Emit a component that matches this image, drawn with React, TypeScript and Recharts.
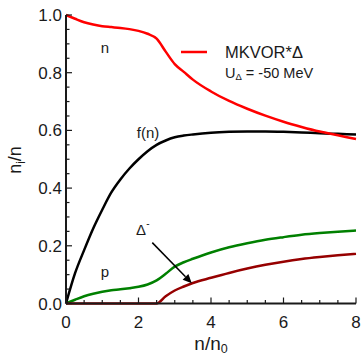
import { Customized, Line, LineChart, ReferenceLine, XAxis, YAxis } from "recharts";

const density = [0, 0.25, 0.5, 0.75, 1, 1.25, 1.5, 1.75, 2, 2.25, 2.5, 2.75, 3, 3.25, 3.5, 4, 4.5, 5, 5.5, 6, 6.5, 7, 7.5, 8];
const nTotal = [1.0, 0.987, 0.975, 0.967, 0.961, 0.958, 0.955, 0.951, 0.945, 0.935, 0.918, 0.873, 0.83, 0.803, 0.776, 0.735, 0.702, 0.675, 0.651, 0.63, 0.612, 0.596, 0.583, 0.57];
const fOfN = [0, 0.105, 0.185, 0.26, 0.325, 0.385, 0.43, 0.468, 0.5, 0.528, 0.55, 0.565, 0.576, 0.582, 0.586, 0.592, 0.595, 0.596, 0.596, 0.595, 0.593, 0.59, 0.588, 0.586];
const proton = [0, 0.013, 0.025, 0.034, 0.041, 0.046, 0.049, 0.053, 0.058, 0.066, 0.08, 0.103, 0.128, 0.143, 0.155, 0.177, 0.195, 0.209, 0.221, 0.23, 0.238, 0.244, 0.249, 0.253];
const deltaMinus = [0, 0, 0, 0, 0, 0, 0, 0, 0, 0, 0, 0.025, 0.045, 0.059, 0.071, 0.089, 0.106, 0.121, 0.134, 0.145, 0.154, 0.161, 0.167, 0.172];

const xTicks = [0, 0.5, 1, 1.5, 2, 2.5, 3, 3.5, 4, 4.5, 5, 5.5, 6, 6.5, 7, 7.5, 8];
const xLabels = [0, 2, 4, 6, 8];
const yTicks = [0, 0.05, 0.1, 0.15, 0.2, 0.25, 0.3, 0.35, 0.4, 0.45, 0.5, 0.55, 0.6, 0.65, 0.7, 0.75, 0.8, 0.85, 0.9, 0.95, 1];
const yLabels = [0, 0.2, 0.4, 0.6, 0.8, 1];

const data = density.map((x, i) => ({
  x,
  n: nTotal[i],
  f: fOfN[i],
  p: proton[i],
  d: deltaMinus[i],
}));

const font = "'Liberation Sans', Arial, sans-serif";
const ink = "#1a1a1a";

const isMajor = (v: number, majors: number[]) => majors.some((m) => Math.abs(m - v) < 1e-6);

function makeTick(side: "bottom" | "top" | "left" | "right") {
  return function Tick(props: any) {
    const { x, y, payload } = props;
    const v = payload.value as number;
    const major = isMajor(v, side === "bottom" || side === "top" ? xLabels : yLabels);
    const len = major ? 6 : 3.5;
    let line;
    if (side === "bottom") line = <line x1={x} y1={y} x2={x} y2={y - len} />;
    else if (side === "top") line = <line x1={x} y1={y} x2={x} y2={y + len} />;
    else if (side === "left") line = <line x1={x} y1={y} x2={x + len} y2={y} />;
    else line = <line x1={x} y1={y} x2={x - len} y2={y} />;
    return (
      <g stroke={ink} strokeWidth={1.2}>
        {line}
        {major && side === "bottom" && (
          <text x={x} y={y + 24.5} textAnchor="middle" fontSize={17} fontFamily={font} fill={ink} stroke="none">
            {v}
          </text>
        )}
        {major && side === "left" && (
          <text x={x - 4} y={y + 6} textAnchor="end" fontSize={17} fontFamily={font} fill={ink} stroke="none">
            {v.toFixed(1)}
          </text>
        )}
      </g>
    );
  };
}

const BottomTick = makeTick("bottom");
const TopTick = makeTick("top");
const LeftTick = makeTick("left");
const RightTick = makeTick("right");

function Arrow(props: any) {
  const { x1, y1, x2, y2 } = props;
  const ang = Math.atan2(y2 - y1, x2 - x1);
  const L = 9;
  const W = 4;
  const bx = x2 - L * Math.cos(ang);
  const by = y2 - L * Math.sin(ang);
  const px = -Math.sin(ang) * W;
  const py = Math.cos(ang) * W;
  return (
    <g>
      <line x1={x1} y1={y1} x2={bx} y2={by} stroke="#000" strokeWidth={1.5} />
      <path d={`M${x2},${y2} L${bx + px},${by + py} L${bx - px},${by - py} Z`} fill="#000" />
    </g>
  );
}

function Annotations() {
  return (
    <g fontFamily={font} fill={ink}>
      <text x={105} y={53} fontSize={15} textAnchor="middle">n</text>
      <text x={148} y={138} fontSize={15} textAnchor="middle">f(n)</text>
      <text x={105} y={277} fontSize={15} textAnchor="middle">p</text>
      <text x={141} y={235} fontSize={15} textAnchor="middle">Δ</text>
      <text x={148} y={227} fontSize={10} textAnchor="middle">-</text>
      <line x1={181} y1={52} x2={207} y2={52} stroke="#ff0000" strokeWidth={2.5} />
      <text x={225} y={58} fontSize={16.5}>MKVOR*Δ</text>
      <text x={225} y={78} fontSize={14.5}>
        U<tspan fontSize={9.5} dy={2}>Δ</tspan>
        <tspan dy={-2}> = -50 MeV</tspan>
      </text>
      <text transform="translate(21,160) rotate(-90)" fontSize={18} textAnchor="middle">
        n<tspan fontSize={12} dy={4}>i</tspan>
        <tspan dy={-4}>/n</tspan>
      </text>
      <text x={211} y={350} fontSize={19} textAnchor="middle">
        n/n<tspan fontSize={12.5} dy={3}>0</tspan>
      </text>
    </g>
  );
}

export default function App() {
  return (
    <div style={{ position: "absolute", left: 0, top: 0, width: 363, height: 357, background: "#fff" }}>
      <LineChart width={363} height={357} data={data} margin={{ top: 15, right: 7, bottom: 0, left: 0 }}>
        <XAxis
          dataKey="x"
          type="number"
          domain={[0, 8]}
          ticks={xTicks}
          interval={0}
          height={53.5}
          tickSize={0}
          tickMargin={0}
          tickLine={false}
          tick={BottomTick}
          axisLine={{ stroke: ink, strokeWidth: 2 }}
        />
        <XAxis
          xAxisId="top"
          orientation="top"
          dataKey="x"
          type="number"
          domain={[0, 8]}
          ticks={xTicks}
          interval={0}
          height={0}
          tickSize={0}
          tickMargin={0}
          tickLine={false}
          tick={TopTick}
          axisLine={{ stroke: ink, strokeWidth: 2 }}
        />
        <YAxis
          type="number"
          domain={[0, 1]}
          ticks={yTicks}
          interval={0}
          width={66}
          tickSize={0}
          tickMargin={0}
          tickLine={false}
          tick={LeftTick}
          axisLine={{ stroke: ink, strokeWidth: 2 }}
        />
        <YAxis
          yAxisId="right"
          orientation="right"
          type="number"
          domain={[0, 1]}
          ticks={yTicks}
          interval={0}
          width={0}
          tickSize={0}
          tickMargin={0}
          tickLine={false}
          tick={RightTick}
          axisLine={{ stroke: ink, strokeWidth: 2 }}
        />
        <Line type="monotone" dataKey="p" stroke="#008000" strokeWidth={2.5} dot={false} isAnimationActive={false} />
        <Line type="monotone" dataKey="d" stroke="#960000" strokeWidth={2.5} dot={false} isAnimationActive={false} />
        <Line type="monotone" dataKey="f" stroke="#000000" strokeWidth={2.5} dot={false} isAnimationActive={false} />
        <Line type="monotone" dataKey="n" stroke="#ff0000" strokeWidth={2.5} dot={false} isAnimationActive={false} />
        <ReferenceLine
          segment={[
            { x: 2.38, y: 0.211 },
            { x: 3.47, y: 0.07 },
          ]}
          shape={Arrow}
          ifOverflow="visible"
        />
        <Customized component={Annotations} />
      </LineChart>
    </div>
  );
}
